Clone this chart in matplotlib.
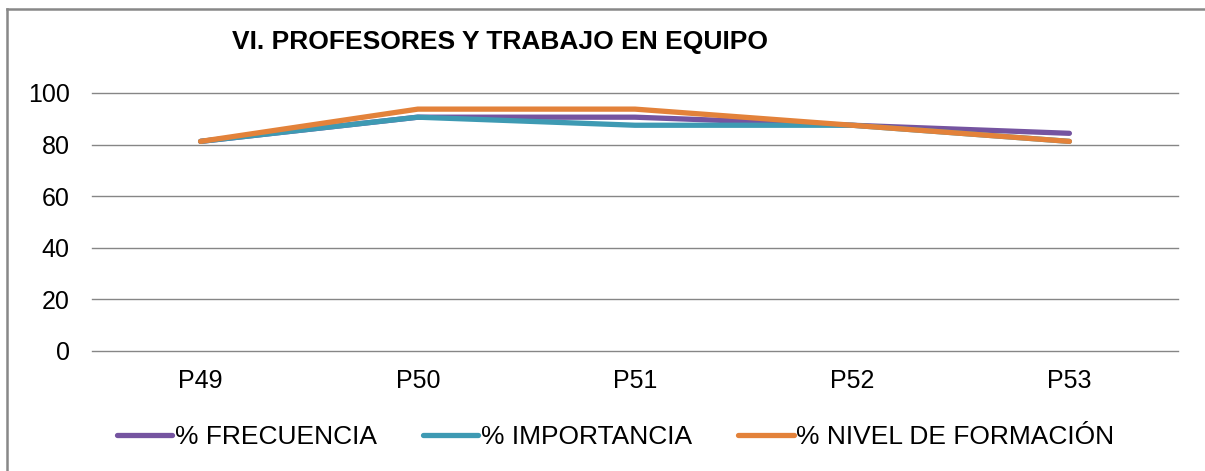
import matplotlib.pyplot as plt
from matplotlib.lines import Line2D

plt.rcParams['font.family'] = ['Liberation Sans', 'DejaVu Sans']

# Datos
preguntas = ['P49', 'P50', 'P51', 'P52', 'P53']
frecuencia = [81.25, 90.625, 90.625, 87.5, 84.375]
importancia = [81.25, 90.625, 87.5, 87.5, 81.25]
nivel_formacion = [81.25, 93.75, 93.75, 87.5, 81.25]
ticks_y = [0, 20, 40, 60, 80, 100]

fig = plt.figure(figsize=(12.05, 4.71), dpi=100)
ax = fig.add_axes([92 / 1205, 1 - 351 / 471, (1178 - 92) / 1205, (351 - 93) / 471])

x = range(len(preguntas))
ax.plot(x, frecuencia, color='#7554A0', lw=3.8, solid_capstyle='round', label='% FRECUENCIA')
ax.plot(x, importancia, color='#3E9AB3', lw=3.8, solid_capstyle='round', label='% IMPORTANCIA')
ax.plot(x, nivel_formacion, color='#E3823A', lw=3.8, solid_capstyle='round', label='% NIVEL DE FORMACIÓN')

ax.set_xlim(-0.5, len(preguntas) - 0.5)
ax.set_ylim(0, 100)
ax.set_yticks(ticks_y)
ax.set_xticks(list(x))
ax.set_xticklabels(preguntas)
ax.grid(axis='y', color='#868686', lw=1)
for g in ax.get_ygridlines():
    g.set_clip_on(False)
ax.set_axisbelow(True)
for s in ax.spines.values():
    s.set_visible(False)
ax.tick_params(axis='both', length=0, labelsize=18, colors='black')
ax.tick_params(axis='y', pad=16)
ax.tick_params(axis='x', pad=13)

ax.legend(loc='center', bbox_to_anchor=(0.482, -0.335), ncol=3, frameon=False,
          fontsize=19, handlelength=2.1, handletextpad=0.1, columnspacing=1.75)

fig.text(232 / 1205, 1 - 42 / 471, 'VI. PROFESORES Y TRABAJO EN EQUIPO',
         fontsize=19, fontweight='bold', va='center', ha='left')

# Marco del gráfico
fig.add_artist(Line2D([7 / 1205, 7 / 1205], [0, 1 - 9 / 471], transform=fig.transFigure, color='#888888', lw=1.8))
fig.add_artist(Line2D([7 / 1205, 1], [1 - 9 / 471, 1 - 9 / 471], transform=fig.transFigure, color='#888888', lw=1.8))

fig.savefig('out.png', dpi=100)
